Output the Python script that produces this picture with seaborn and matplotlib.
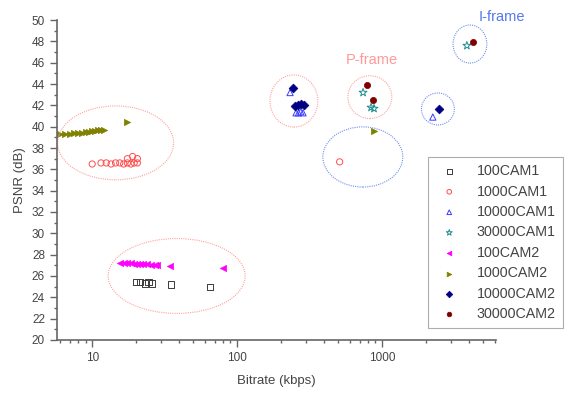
import numpy as np
import pandas as pd
import matplotlib
matplotlib.use("Agg")
import matplotlib.pyplot as plt
import seaborn as sns
from matplotlib.patches import Ellipse
from matplotlib.ticker import LogLocator, MultipleLocator, FixedLocator, FixedFormatter

# --- datos ---
x_100cam1 = [20, 21.5, 23, 24.5, 26, 35, 65]
y_100cam1 = [25.4, 25.4, 25.3, 25.4, 25.3, 25.2, 25.0]

x_1000cam1 = [10, 11.5, 12.5, 13.5, 14.5, 15.5, 16.5, 17.5, 18.5, 19.5, 20.5, 17.5, 19, 20.5, 510]
y_1000cam1 = [36.5, 36.6, 36.6, 36.5, 36.6, 36.6, 36.5, 36.6, 36.5, 36.6, 36.6, 37.0, 37.2, 37.0, 36.7]

x_10000cam1 = [232, 255, 265, 275, 285, 2240]
y_10000cam1 = [43.2, 41.3, 41.3, 41.4, 41.3, 40.9]

x_30000cam1 = [740, 840, 880, 3850]
y_30000cam1 = [43.2, 41.8, 41.7, 47.6]

x_100cam2 = [15.5, 16.5, 17.5, 18.5, 19.5, 20.5, 21.5, 22.5, 24, 25.5, 27, 28, 34.5, 80]
y_100cam2 = [27.2, 27.2, 27.2, 27.2, 27.1, 27.1, 27.1, 27.1, 27.1, 27.0, 27.0, 27.0, 26.9, 26.75]

x_1000cam2 = [6, 6.5, 7, 7.5, 8, 8.5, 9, 9.5, 10, 10.5, 11, 11.5, 12, 17.4, 880]
y_1000cam2 = [39.3, 39.3, 39.35, 39.4, 39.4, 39.45, 39.5, 39.5, 39.55, 39.6, 39.65, 39.7, 39.65, 40.4, 39.6]

x_10000cam2 = [243, 250, 262, 275, 290, 2470]
y_10000cam2 = [43.6, 41.9, 42.0, 42.1, 42.0, 41.7]

x_30000cam2 = [790, 870, 4250]
y_30000cam2 = [43.9, 42.5, 47.9]

series = [
    ("100CAM1", x_100cam1, y_100cam1, "s", "#3a3a3a", False),
    ("1000CAM1", x_1000cam1, y_1000cam1, "o", "#ff4d4d", False),
    ("10000CAM1", x_10000cam1, y_10000cam1, "^", "#3b3bff", False),
    ("30000CAM1", x_30000cam1, y_30000cam1, "*", "#1f8f8f", False),
    ("100CAM2", x_100cam2, y_100cam2, "<", "#ff00ff", True),
    ("1000CAM2", x_1000cam2, y_1000cam2, ">", "#808000", True),
    ("10000CAM2", x_10000cam2, y_10000cam2, "D", "#000080", True),
    ("30000CAM2", x_30000cam2, y_30000cam2, "o", "#800000", True),
]

sns.set_style("ticks")
plt.rcParams['font.family'] = ['Liberation Sans', 'DejaVu Sans']
txt = "#444444"

fig = plt.figure(figsize=(5.68, 3.93), dpi=100)
ax = fig.add_axes([0.100, 0.135, 0.773, 0.814])

for name, xs, ys, mk, col, filled in series:
    df = pd.DataFrame({"x": xs, "y": ys})
    size = 36 if mk == "*" else 20
    if filled:
        sns.scatterplot(data=df, x="x", y="y", marker=mk, color=col, edgecolor=col,
                        s=size, linewidth=0.5, label=name, ax=ax)
    else:
        sns.scatterplot(data=df, x="x", y="y", marker=mk, facecolor="none", edgecolor=col,
                        s=size, linewidth=0.7, label=name, ax=ax)

ax.set_xscale("log")
ax.set_xlim(5.7, 6100)
ax.set_ylim(20, 50)
ax.yaxis.set_major_locator(MultipleLocator(2))
ax.yaxis.set_minor_locator(MultipleLocator(1))
ax.xaxis.set_major_locator(FixedLocator([10, 100, 1000]))
ax.xaxis.set_major_formatter(FixedFormatter(["10", "100", "1000"]))
ax.xaxis.set_minor_locator(LogLocator(base=10, subs=np.arange(2, 10)))

for s in ["top", "right"]:
    ax.spines[s].set_visible(False)
for s in ["left", "bottom"]:
    ax.spines[s].set_color("#666666")
    ax.spines[s].set_linewidth(1.2)
ax.tick_params(which="major", direction="out", length=5, width=1, colors="#666666",
               labelcolor=txt, labelsize=8.5)
ax.tick_params(which="minor", direction="out", length=2.5, width=1, colors="#666666")

ax.set_xlabel("Bitrate (kbps)", fontsize=9.5, color=txt, labelpad=8)
ax.set_ylabel("PSNR (dB)", fontsize=9.5, color=txt, labelpad=4)

# elipses de anotacion (fracciones de ejes)
red = "#ffa0a0"
blue = "#6f8fee"
ellipses = [
    ((0.134, 0.616), 0.264, 0.231, red),
    ((0.273, 0.200), 0.312, 0.234, red),
    ((0.540, 0.747), 0.109, 0.163, red),
    ((0.713, 0.759), 0.100, 0.134, red),
    ((0.697, 0.572), 0.182, 0.188, blue),
    ((0.941, 0.925), 0.077, 0.119, blue),
    ((0.868, 0.722), 0.075, 0.100, blue),
]
for c, w, h, col in ellipses:
    ax.add_patch(Ellipse(c, w, h, transform=ax.transAxes, fill=False,
                         edgecolor=col, linestyle=(0, (1, 1)), linewidth=0.8,
                         clip_on=False))

ax.text(0.718, 0.875, "P-frame", transform=ax.transAxes, color="#ff9999",
        fontsize=10.5, ha="center", va="center")
ax.text(1.014, 1.009, "I-frame", transform=ax.transAxes, color="#5577ee",
        fontsize=10.5, ha="center", va="center")

leg = ax.legend(loc="upper left", bbox_to_anchor=(0.845, 0.572), borderaxespad=0,
                fontsize=10.3, frameon=True, fancybox=False, handletextpad=0.9,
                labelspacing=0.45, borderpad=0.5, markerscale=0.75)
leg.get_frame().set_edgecolor("#999999")
leg.get_frame().set_linewidth(0.8)
for t in leg.get_texts():
    t.set_color(txt)

plt.savefig("out.png", dpi=100)
